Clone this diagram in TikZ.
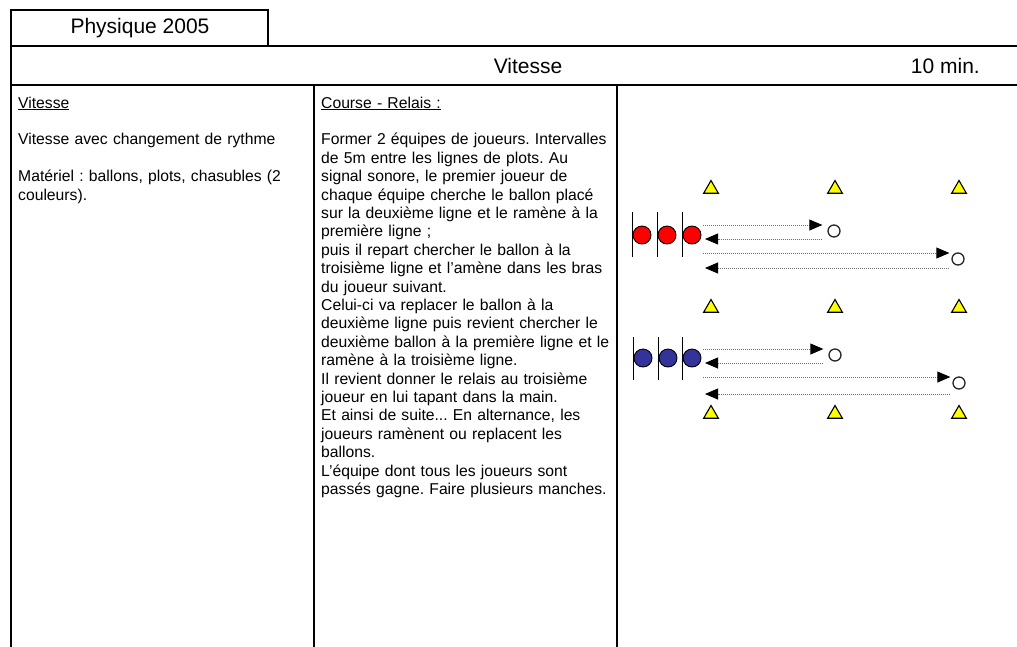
\documentclass[tikz,border=0pt]{standalone}
\usepackage{fontspec}
\setmainfont{Liberation Sans}
\frenchspacing
\usetikzlibrary{shapes.geometric, arrows.meta, positioning}
\definecolor{rougeEquipe}{RGB}{255, 0, 0}
\definecolor{bleuEquipe}{RGB}{51, 51, 153}
\definecolor{jaunePlot}{RGB}{255, 255, 0}
\definecolor{griTrait}{RGB}{110, 110, 110}

\begin{document}
\begin{tikzpicture}[x=1pt, y=-1pt,
  cadre/.style={line width=2pt, line cap=rect},
  titre/.style={inner sep=0pt, font=\fontsize{21}{24}\selectfont},
  txt/.style={anchor=base west, inner sep=0pt, align=left,
    font=\fontsize{15.7}{18.4}\selectfont},
  plot/.style={regular polygon, regular polygon sides=3, draw=black,
    fill=jaunePlot, minimum size=17pt, inner sep=0pt, line width=1.1pt},
  joueur/.style={circle, draw=black, minimum size=18pt, inner sep=0pt,
    line width=0.9pt},
  ballon/.style={circle, draw=black!85, fill=white, minimum size=12pt,
    inner sep=0pt, line width=1.3pt},
  barre/.style={line width=1.5pt},
  arr/.style={-{Triangle[length=13pt, width=11pt, color=black]},
    draw=griTrait, line width=0.8pt, dash pattern=on 1pt off 1pt},
]
\useasboundingbox (0,0) rectangle (1017,646);

\draw[cadre] (11,46) -- (11,10) -- (268,10) -- (268,46);
\draw[cadre] (11,46) -- (1017,46);
\draw[cadre] (11,85) -- (1017,85);
\draw[cadre] (11,46) -- (11,646);
\draw[cadre] (314,85) -- (314,646);
\draw[cadre] (617,85) -- (617,646);

\node[titre] (annee) at (140,28) {Physique 2005};
\node[titre] (theme) at (528,66) {Vitesse};
\node[titre, anchor=east] (duree) at (980,66) {10 min.};

\node[txt, text width=290pt] (objectif) at (18,108)
  {\underline{Vitesse}\\[18.4pt]
   Vitesse avec changement de rythme\\[18.4pt]
   Matériel : ballons, plots, chasubles (2\\
   couleurs).};
\node[txt, text width=300pt] (consigne) at (321,108)
  {\underline{Course - Relais :}\\[18.4pt]
   Former 2 équipes de joueurs. Intervalles\\
   de 5m entre les lignes de plots. Au\\
   signal sonore, le premier joueur de\\
   chaque équipe cherche le ballon placé\\
   sur la deuxième ligne et le ramène à la\\
   première ligne ;\\
   puis il repart chercher le ballon à la\\
   troisième ligne et l’amène dans les bras\\
   du joueur suivant.\\
   Celui-ci va replacer le ballon à la\\
   deuxième ligne puis revient chercher le\\
   deuxième ballon à la première ligne et le\\
   ramène à la troisième ligne.\\
   Il revient donner le relais au troisième\\
   joueur en lui tapant dans la main.\\
   Et ainsi de suite... En alternance, les\\
   joueurs ramènent ou replacent les\\
   ballons.\\
   L’équipe dont tous les joueurs sont\\
   passés gagne. Faire plusieurs manches.};

\node[plot] (plotA1) at (711,189) {};
\node[plot] (plotA2) at (835,189) {};
\node[plot] (plotA3) at (959,189) {};
\node[plot] (plotB1) at (711,308) {};
\node[plot] (plotB2) at (835,308) {};
\node[plot] (plotB3) at (959,308) {};
\node[plot] (plotC1) at (711,414) {};
\node[plot] (plotC2) at (835,414) {};
\node[plot] (plotC3) at (959,414) {};

\node[joueur, fill=rougeEquipe] (rouge1) at (642,235) {};
\node[joueur, fill=rougeEquipe] (rouge2) at (667,235) {};
\node[joueur, fill=rougeEquipe] (rouge3) at (692,235) {};
\draw[barre] (rouge1.west) ++(0,-23) -- ++(0,45);
\draw[barre] (rouge2.west) ++(0,-23) -- ++(0,45);
\draw[barre] (rouge3.west) ++(0,-23) -- ++(0,45);
\node[ballon] (ballonR1) at (834,231) {};
\node[ballon] (ballonR2) at (958,259) {};
\coordinate (allerR1)  at (703,225);
\coordinate (retourR1) at (705,239);
\coordinate (allerR2)  at (703,253);
\coordinate (retourR2) at (705,268);
\draw[arr, shorten >=5pt] (allerR1) -- (allerR1 -| ballonR1.west);
\draw[arr, shorten <=5pt] (retourR1 -| ballonR1.west) -- (retourR1);
\draw[arr, shorten >=2pt] (allerR2) -- (allerR2 -| ballonR2.west);
\draw[arr, shorten <=2pt] (retourR2 -| ballonR2.west) -- (retourR2);

\node[joueur, fill=bleuEquipe] (bleu1) at (643,358) {};
\node[joueur, fill=bleuEquipe] (bleu2) at (668,358) {};
\node[joueur, fill=bleuEquipe] (bleu3) at (692,358) {};
\draw[barre] (bleu1.west) ++(0,-21) -- ++(0,43);
\draw[barre] (bleu2.west) ++(0,-21) -- ++(0,43);
\draw[barre] (bleu3.west) ++(0,-21) -- ++(0,43);
\node[ballon] (ballonB1) at (835,355) {};
\node[ballon] (ballonB2) at (959,383) {};
\coordinate (allerB1)  at (703,349);
\coordinate (retourB1) at (705,363);
\coordinate (allerB2)  at (703,377);
\coordinate (retourB2) at (705,394);
\draw[arr, shorten >=5pt] (allerB1) -- (allerB1 -| ballonB1.west);
\draw[arr, shorten <=5pt] (retourB1 -| ballonB1.west) -- (retourB1);
\draw[arr, shorten >=2pt] (allerB2) -- (allerB2 -| ballonB2.west);
\draw[arr, shorten <=2pt] (retourB2 -| ballonB2.west) -- (retourB2);
\end{tikzpicture}
\end{document}
